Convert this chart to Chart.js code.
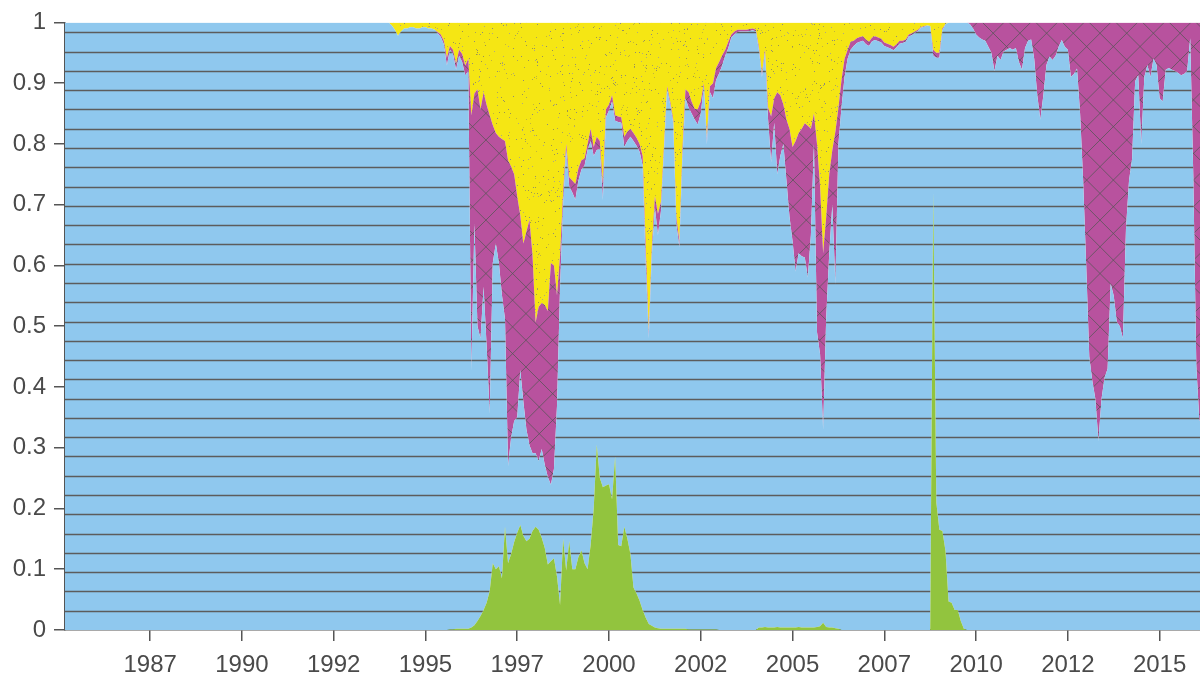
<!DOCTYPE html>
<html>
<head>
<meta charset="utf-8">
<script src="https://cdn.jsdelivr.net/npm/chart.js@4.4.1/dist/chart.umd.min.js"></script>
<style>
  html, body { margin: 0; padding: 0; background: #fff; }
  #wrap { width: 1200px; height: 680px; position: relative; }
</style>
</head>
<body>
<div id="wrap"><canvas id="regimechart"></canvas></div>
<script>
// monthly regime probabilities, Jan 1985 .. Mar 2016 (one row per year)
const startYear = 1985;

const green = [
  0,0,0,0,0,0,0,0,0,0,0,0, // 1985
  0,0,0,0,0,0,0,0,0,0,0,0, // 1986
  0,0,0,0,0,0,0,0,0,0,0,0, // 1987
  0,0,0,0,0,0,0,0,0,0,0,0, // 1988
  0,0,0,0,0,0,0,0,0,0,0,0, // 1989
  0,0,0,0,0,0,0,0,0,0,0,0, // 1990
  0,0,0,0,0,0,0,0,0,0,0,0, // 1991
  0,0,0,0,0,0,0,0,0,0,0,0, // 1992
  0,0,0,0,0,0,0,0,0,0,0,0, // 1993
  0,0,0,0,0,0,0,0,0,0,0,0, // 1994
  0,0,0,0,0,0,0,0,0.001,0.001,0.002,0.002, // 1995
  0.002,0.002,0.002,0.004,0.008,0.015,0.023,0.033,0.045,0.064,0.11,0.1, // 1996
  0.105,0.085,0.17,0.11,0.125,0.145,0.16,0.173,0.155,0.146,0.15,0.163, // 1997
  0.17,0.165,0.152,0.135,0.108,0.113,0.118,0.088,0.041,0.15,0.098,0.146, // 1998
  0.1,0.1,0.12,0.131,0.11,0.1,0.14,0.2,0.305,0.25,0.235,0.238, // 1999
  0.24,0.215,0.285,0.14,0.138,0.17,0.15,0.125,0.07,0.06,0.048,0.033, // 2000
  0.02,0.01,0.007,0.004,0.003,0.002,0.002,0.002,0.002,0.002,0.002,0.002, // 2001
  0.002,0.002,0.001,0.001,0.001,0.001,0.001,0.001,0.001,0.001,0.001,0.001, // 2002
  0,0,0,0,0,0,0,0,0,0,0,0, // 2003
  0,0.004,0.004,0.005,0.004,0.004,0.004,0.005,0.004,0.004,0.004,0.004, // 2004
  0.004,0.004,0.005,0.004,0.004,0.004,0.004,0.004,0.005,0.006,0.012,0.005, // 2005
  0.004,0.004,0.003,0.002,0,0,0,0,0,0,0,0, // 2006
  0,0,0,0,0,0,0,0,0,0,0,0, // 2007
  0,0,0,0,0,0,0,0,0,0,0.72,0.21, // 2008
  0.165,0.163,0.13,0.047,0.045,0.033,0.033,0.015,0.002,0,0,0, // 2009
  0,0,0,0,0,0,0,0,0,0,0,0, // 2010
  0,0,0,0,0,0,0,0,0,0,0,0, // 2011
  0,0,0,0,0,0,0,0,0,0,0,0, // 2012
  0,0,0,0,0,0,0,0,0,0,0,0, // 2013
  0,0,0,0,0,0,0,0,0,0,0,0, // 2014
  0,0,0,0,0,0,0,0,0,0,0,0, // 2015
  0,0,0 // 2016
];

const magenta = [
  0,0,0,0,0,0,0,0,0,0,0,0, // 1985
  0,0,0,0,0,0,0,0,0,0,0,0, // 1986
  0,0,0,0,0,0,0,0,0,0,0,0, // 1987
  0,0,0,0,0,0,0,0,0,0,0,0, // 1988
  0,0,0,0,0,0,0,0,0,0,0,0, // 1989
  0,0,0,0,0,0,0,0,0,0,0,0, // 1990
  0,0,0,0,0,0,0,0,0,0,0,0, // 1991
  0,0,0,0,0,0,0,0,0,0,0,0, // 1992
  0,0,0,0,0,0,0,0,0,0,0,0, // 1993
  0,0,0,0,0,0,0,0,0,0,0,0, // 1994
  0,0,0,0,0.002,0.004,0.006,0.013,0.006,0.007,0.01,0.01, // 1995
  0.013,0.016,0.02,0.419,0.214,0.39,0.377,0.32,0.397,0.491,0.227,0.182, // 1996
  0.208,0.257,0.293,0.503,0.446,0.406,0.364,0.254,0.26,0.326,0.371,0.326, // 1997
  0.215,0.254,0.24,0.263,0.273,0.365,0.335,0.182,0.051,0.02,0.01,0.015, // 1998
  0.02,0.026,0.02,0.015,0.012,0.01,0.02,0.015,0.022,0.013,0.026,0.013, // 1999
  0.01,0.01,0.009,0.009,0.009,0.017,0.015,0.013,0.013,0.013,0.013,0.015, // 2000
  0.027,0.01,0.013,0.019,0.035,0.015,0.01,0.005,0.005,0.005,0.012,0.01, // 2001
  0.015,0.015,0.025,0.02,0.018,0.025,0.02,0.005,0.01,0.01,0.025,0.02, // 2002
  0.019,0.017,0.01,0.01,0.005,0.005,0.004,0.003,0.003,0.003,0.003,0.003, // 2003
  0.003,0.005,0.006,0.005,0.02,0.075,0.04,0.135,0.1,0.065,0.1,0.145, // 2004
  0.155,0.215,0.198,0.21,0.221,0.25,0.175,0.05,0.31,0.276,0.29,0.167, // 2005
  0.13,0.09,0.25,0.06,0.045,0.03,0.015,0.013,0.009,0.008,0.008,0.007, // 2006
  0.008,0.007,0.006,0.006,0.006,0.006,0.006,0.006,0.006,0.006,0.005,0.005, // 2007
  0.004,0.004,0.003,0.003,0.002,0.002,0.001,0.001,0,0,0.01,0.008, // 2008
  0.008,0.003,0,0,0,0,0,0,0,0,0.003,0.01, // 2009
  0.02,0.025,0.028,0.03,0.04,0.05,0.08,0.055,0.062,0.048,0.045,0.042, // 2010
  0.045,0.042,0.065,0.078,0.042,0.03,0.028,0.06,0.12,0.16,0.12,0.07, // 2011
  0.056,0.062,0.055,0.04,0.029,0.04,0.045,0.09,0.085,0.076,0.15,0.26, // 2012
  0.4,0.55,0.59,0.62,0.689,0.62,0.585,0.57,0.43,0.45,0.493,0.5, // 2013
  0.52,0.34,0.26,0.225,0.097,0.087,0.2,0.09,0.07,0.09,0.06,0.07, // 2014
  0.125,0.13,0.078,0.075,0.078,0.08,0.083,0.087,0.085,0.08,0.026,0.25, // 2015
  0.566,0.656,0.65 // 2016
];

const yellow = [
  0,0,0,0,0,0,0,0,0,0,0,0, // 1985
  0,0,0,0,0,0,0,0,0,0,0,0, // 1986
  0,0,0,0,0,0,0,0,0,0,0,0, // 1987
  0,0,0,0,0,0,0,0,0,0,0,0, // 1988
  0,0,0,0,0,0,0,0,0,0,0,0, // 1989
  0,0,0,0,0,0,0,0,0,0,0,0, // 1990
  0,0,0,0,0,0,0,0,0,0,0,0, // 1991
  0,0,0,0,0,0,0,0,0,0,0,0, // 1992
  0,0,0,0,0,0,0,0,0,0,0,0, // 1993
  0,0.005,0.012,0.022,0.015,0.01,0.01,0.008,0.008,0.01,0.01,0.008, // 1994
  0.008,0.01,0.01,0.012,0.016,0.02,0.03,0.058,0.039,0.045,0.068,0.045, // 1995
  0.052,0.071,0.06,0.153,0.117,0.11,0.143,0.115,0.136,0.153,0.169,0.182, // 1996
  0.188,0.192,0.195,0.227,0.237,0.25,0.286,0.318,0.364,0.344,0.325,0.383, // 1997
  0.494,0.468,0.462,0.465,0.475,0.396,0.4,0.449,0.384,0.28,0.2,0.255, // 1998
  0.26,0.266,0.24,0.227,0.224,0.2,0.175,0.205,0.188,0.195,0.266,0.143, // 1999
  0.135,0.12,0.153,0.155,0.156,0.188,0.18,0.175,0.182,0.19,0.2,0.22, // 2000
  0.37,0.51,0.37,0.286,0.315,0.295,0.2,0.105,0.13,0.16,0.32,0.36, // 2001
  0.21,0.11,0.115,0.13,0.142,0.143,0.13,0.1,0.19,0.105,0.1,0.075, // 2002
  0.065,0.054,0.045,0.032,0.02,0.015,0.012,0.012,0.012,0.012,0.011,0.01, // 2003
  0.012,0.04,0.084,0.045,0.14,0.155,0.125,0.115,0.12,0.135,0.16,0.175, // 2004
  0.205,0.195,0.182,0.175,0.166,0.17,0.175,0.15,0.2,0.27,0.38,0.32, // 2005
  0.25,0.21,0.18,0.14,0.095,0.06,0.045,0.032,0.03,0.026,0.024,0.023, // 2006
  0.028,0.032,0.025,0.023,0.025,0.027,0.033,0.035,0.037,0.04,0.036,0.03, // 2007
  0.03,0.028,0.02,0.018,0.015,0.012,0.008,0.006,0.005,0.006,0.045,0.05, // 2008
  0.05,0.01,0.003,0,0,0,0,0,0,0,0,0, // 2009
  0,0,0,0,0,0,0,0,0,0,0,0, // 2010
  0,0,0,0,0,0,0,0,0,0,0,0, // 2011
  0,0,0,0,0,0,0,0,0,0,0,0, // 2012
  0,0,0,0,0,0,0,0,0,0,0,0, // 2013
  0,0,0,0,0,0,0,0,0,0,0,0, // 2014
  0,0,0,0,0,0,0,0,0,0,0,0, // 2015
  0,0,0 // 2016
];

const xTickValues = [1987.5, 1990, 1992.5, 1995, 1997.5, 2000, 2002.5, 2005, 2007.5, 2010, 2012.5, 2015];
const xTickLabels = ['1987', '1990', '1992', '1995', '1997', '2000', '2002', '2005', '2007', '2010', '2012', '2015'];

// the four probabilities add up to one, blue is whatever is left
const dates = green.map((v, i) => startYear + i / 12);
const blue = green.map((g, i) => Math.max(0, 1 - g - magenta[i] - yellow[i]));
const toXY = arr => arr.map((v, i) => ({ x: dates[i], y: v }));

const W = 1200, H = 680;
const axisColor = '#555555';
const textColor = '#4a4a4a';
const fontFamily = "'Liberation Sans', Arial, Helvetica, sans-serif";

function makePattern(draw) {
    const c = document.createElement('canvas');
    c.width = W;
    c.height = H;
    const g = c.getContext('2d');
    draw(g);
    return g.createPattern(c, 'no-repeat');
}

// blue: horizontal hatch
const bluePattern = makePattern(function (g) {
    g.fillStyle = '#8fc8ee';
    g.fillRect(0, 0, W, H);
    g.strokeStyle = '#5c5c5c';
    g.lineWidth = 1.4;
    for (let k = 0; k <= 30; k++) {
        const y = Math.round(610.7 - k * 19.28) + 0.5;
        g.beginPath();
        g.moveTo(0, y);
        g.lineTo(W, y);
        g.stroke();
    }
});

// magenta: diagonal cross hatch
const magentaPattern = makePattern(function (g) {
    g.fillStyle = '#b8529e';
    g.fillRect(0, 0, W, H);
    g.strokeStyle = 'rgba(85,85,85,0.75)';
    g.lineWidth = 1;
    const step = 26.7;
    for (let c = 1240 - step * 60; c < 1240 + step * 60; c += step) {
        g.beginPath();
        g.moveTo(c, 0);
        g.lineTo(c - H, H);
        g.stroke();
    }
    for (let c = 960 - step * 60; c < 960 + step * 60; c += step) {
        g.beginPath();
        g.moveTo(c, 0);
        g.lineTo(c + H, H);
        g.stroke();
    }
});

// yellow: speckled
const yellowPattern = makePattern(function (g) {
    g.fillStyle = '#f5e614';
    g.fillRect(0, 0, W, H);
    let seed = 12345;
    const rnd = function () {
        seed = (seed * 1664525 + 1013904223) >>> 0;
        return seed / 4294967296;
    };
    const dots = ['#a9a25a', '#8e8c78', '#c2b53a', '#b0a880', '#9b9450'];
    const n = Math.round(W * H * 0.022);
    for (let i = 0; i < n; i++) {
        g.fillStyle = dots[Math.floor(rnd() * dots.length)];
        g.fillRect(Math.floor(rnd() * W), Math.floor(rnd() * H), 1, 1);
    }
});

new Chart(document.getElementById('regimechart'), {
    type: 'line',
    data: {
        datasets: [{
            label: 'Regime 1',
            data: toXY(green),
            backgroundColor: '#92c43e',
            fill: 'origin',
            borderWidth: 0,
        },
        {
            label: 'Regime 2',
            data: toXY(blue),
            backgroundColor: bluePattern,
            fill: '-1',
            borderWidth: 0,
        },
        {
            label: 'Regime 3',
            data: toXY(magenta),
            backgroundColor: magentaPattern,
            fill: '-1',
            borderWidth: 0,
        },
        {
            label: 'Regime 4',
            data: toXY(yellow),
            backgroundColor: yellowPattern,
            fill: '-1',
            borderWidth: 0,
        },
        ],
    },
    options: {
        animation: false,
        responsive: true,
        maintainAspectRatio: false,
        layout: {
            padding: { top: 22, right: 0, left: 0, bottom: 0 }
        },
        elements: {
            line: { tension: 0 },
            point: { radius: 0, hoverRadius: 0 }
        },
        plugins: {
            legend: { display: false },
            tooltip: { enabled: false }
        },
        scales: {
            x: {
                type: 'linear',
                min: 1985.18,
                max: 2016.1,
                afterBuildTicks: function (scale) {
                    scale.ticks = xTickValues.map(v => ({ value: v }));
                },
                afterFit: function (scale) {
                    scale.height = 50;
                },
                ticks: {
                    autoSkip: false,
                    maxRotation: 0,
                    padding: 10,
                    color: textColor,
                    font: { family: fontFamily, size: 24 },
                    callback: (value, index) => xTickLabels[index],
                },
                grid: {
                    drawOnChartArea: false,
                    tickLength: 11,
                    color: axisColor,
                    lineWidth: 1.5,
                },
                border: { color: axisColor, width: 1.5 },
            },
            y: {
                stacked: true,
                min: 0,
                max: 1,
                afterFit: function (scale) {
                    scale.width = 65;
                },
                ticks: {
                    stepSize: 0.1,
                    padding: 8,
                    color: textColor,
                    font: { family: fontFamily, size: 24 },
                    callback: value => String(Math.round(value * 10) / 10),
                },
                grid: {
                    drawOnChartArea: false,
                    tickLength: 11,
                    color: axisColor,
                    lineWidth: 1.5,
                },
                border: { color: axisColor, width: 1.5 },
            },
        },
    },
});
</script>
</body>
</html>
